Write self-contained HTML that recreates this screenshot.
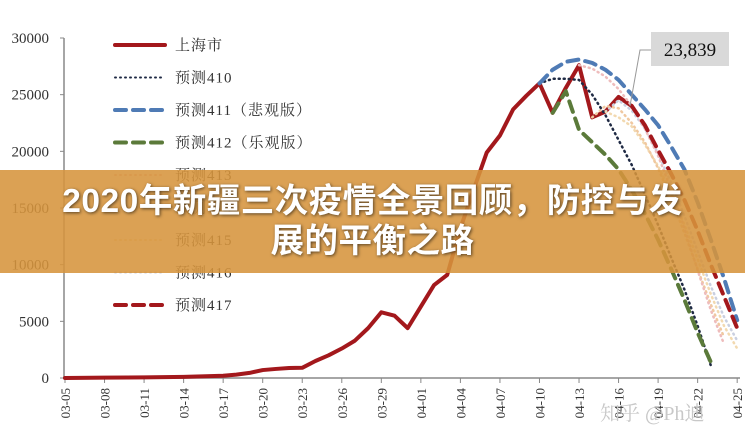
<!DOCTYPE html>
<html><head><meta charset="utf-8">
<style>
body{margin:0;background:#fff;}
#wrap{position:relative;width:745px;height:444px;overflow:hidden;background:#fff;}
svg text{font-family:"Liberation Serif","Noto Serif CJK SC",serif;}
#banner{position:absolute;left:0;top:170px;width:745px;height:103px;background:rgba(214,148,60,0.88);display:flex;align-items:center;justify-content:center;text-align:center;}
#banner div{color:#fff;font-family:"Liberation Sans","Noto Sans CJK SC",sans-serif;font-weight:bold;font-size:33.5px;line-height:40px;width:700px;letter-spacing:0.5px;text-shadow:1px 1px 3px rgba(0,0,0,0.6);}
</style></head><body>
<div id="wrap">
<svg id="chart" width="745" height="444"></svg>
<div id="banner"><div>2020年新疆三次疫情全景回顾，防控与发<br>展的平衡之路</div></div>
</div>
<script>
const dates=["03-05","03-08","03-11","03-14","03-17","03-20","03-23","03-26","03-29","04-01","04-04","04-07","04-10","04-13","04-16","04-19","04-22","04-25"];
const yTicks=[0,5000,10000,15000,20000,25000,30000];
// series: [dayIndex, value] day 0 = 03-05
const shanghai=[[0,0],[3,30],[6,60],[9,100],[12,200],[13,300],[14,450],[15,700],[16,800],[17,880],[18,900],[19,1500],[20,2000],[21,2600],[22,3300],[23,4400],[24,5800],[25,5500],[26,4400],[27,6300],[28,8200],[29,9100],[30,13200],[31,16600],[32,19900],[33,21400],[34,23700],[35,24900],[36,26000],[37,23400],[38,25600],[39,27600],[40,23000],[41,23500],[42,24800],[43,24000]];
const f410=[[36,26000],[37,26400],[38,26400],[39,26300],[40,25000],[41,23200],[42,21000],[43,18800],[44,16200],[45,13500],[46,10600],[47,7800],[48,4600],[49,1100]];
const f411=[[36,26000],[37,27200],[38,27900],[39,28100],[40,27800],[41,27200],[42,26300],[43,25000],[44,23700],[45,22300],[46,20400],[47,18400],[48,15500],[49,12200],[50,8800],[51,5100]];
const f412=[[37,23400],[38,25300],[39,21900],[40,20800],[41,19700],[42,18400],[43,16600],[44,14500],[45,12200],[46,9600],[47,6900],[48,4000],[49,1400]];
const f413=[[39,27600],[40,27300],[41,26600],[42,25500],[43,24000],[44,22000],[45,19600],[46,16600],[47,13200],[48,9500],[49,6000],[50,3000]];
const f414=[[40,23000],[41,24000],[42,23800],[43,22500],[44,20800],[45,18500],[46,15800],[47,12800],[48,9600],[49,6500],[50,3600]];
const f415=[[41,23500],[42,23000],[43,22200],[44,20600],[45,18700],[46,16300],[47,13500],[48,10500],[49,7400],[50,4600],[51,2600]];
const f416=[[41,23500],[42,24500],[43,23600],[44,22000],[45,19800],[46,17200],[47,14300],[48,11200],[49,8100],[50,5400],[51,3300]];
const f417=[[43,24000],[44,22300],[45,20100],[46,18000],[47,15700],[48,13000],[49,10000],[50,7200],[51,4400]];
const legendLabels=["上海市","预测410","预测411（悲观版）","预测412（乐观版）","预测413","预测414","预测415","预测416","预测417"];
const calloutValue="23,839";

const NS="http://www.w3.org/2000/svg";
const svg=document.getElementById('chart');
const X0=65,DX=13.18,Y0=378,YS=340/30000;
const xs=d=>X0+d*DX, ys=v=>Y0-v*YS;
function mk(tag,attrs,parent){const e=document.createElementNS(NS,tag);for(const k in attrs)e.setAttribute(k,attrs[k]);(parent||svg).appendChild(e);return e;}
let ax=mk('line',{x1:64,y1:38,x2:64,y2:379,stroke:'#888','stroke-width':1.5});


let bx=mk('line',{x1:63,y1:378,x2:740,y2:378,stroke:'#888','stroke-width':1.5});


yTicks.forEach(v=>{
 mk('line',{x1:60,y1:ys(v),x2:64,y2:ys(v),stroke:'#888'});
 const t=mk('text',{x:49,y:ys(v)+5,'text-anchor':'end','font-size':15,fill:'#333'});t.textContent=v;
 
 
});
dates.forEach((d,i)=>{
 const x=xs(i*3);
 mk('line',{x1:x,y1:378,x2:x,y2:383,stroke:'#888'});
 const t=mk('text',{x:0,y:0,'text-anchor':'end','font-size':13,fill:'#333',transform:`translate(${x+5},388) rotate(-90)`});t.textContent=d;
 
 
});
const styles=[
 {d:shanghai,c:'#a3181c',w:4,da:'',name:'series-shanghai'},
 {d:f416,c:'#c9cfe0',w:2.5,da:'1 4',name:'series-forecast-416'},
 {d:f415,c:'#f2d9b0',w:2.5,da:'1 4',name:'series-forecast-415'},
 {d:f414,c:'#f0c8a0',w:2.5,da:'1 4',name:'series-forecast-414'},
 {d:f413,c:'#eebcbc',w:2.5,da:'1 4',name:'series-forecast-413'},
 {d:f410,c:'#1f2a44',w:2.5,da:'1 4',name:'series-forecast-410'},
 {d:f411,c:'#4f7bb5',w:4,da:'11 7',name:'series-forecast-411'},
 {d:f412,c:'#5b7a3a',w:4,da:'11 7',name:'series-forecast-412'},
 {d:f417,c:'#a3181c',w:4,da:'11 7',name:'series-forecast-417'}];
styles.forEach(s=>{
 const p=mk('polyline',{points:s.d.map(([d,v])=>xs(d)+','+ys(v)).join(' '),fill:'none',stroke:s.c,'stroke-width':s.w,'stroke-dasharray':s.da,'stroke-linecap':'round','stroke-linejoin':'round'});
 
 
});
const lg=[{c:'#a3181c',w:4,da:''},{c:'#1f2a44',w:2,da:'1 4'},{c:'#4f7bb5',w:4,da:'11 7'},{c:'#5b7a3a',w:4,da:'11 7'},{c:'#eebcbc',w:2,da:'1 4'},{c:'#f0c8a0',w:2,da:'1 4'},{c:'#f2d9b0',w:2,da:'1 4'},{c:'#c9cfe0',w:2,da:'1 4'},{c:'#a3181c',w:4,da:'11 7'}];
legendLabels.forEach((l,i)=>{
 const y=45+i*32.5;
 const g=mk('g',{});
 
 
 mk('line',{x1:115,y1:y,x2:165,y2:y,stroke:lg[i].c,'stroke-width':lg[i].w,'stroke-dasharray':lg[i].da,'stroke-linecap':'round'},g);
 const t=mk('text',{x:175,y:y+5,'font-size':15,fill:'#333','letter-spacing':1},g);t.textContent=l;
});
const cg=mk('g',{});


mk('polyline',{points:'652,50 640,50 630,106',fill:'none',stroke:'#999','stroke-width':1},cg);
mk('rect',{x:651,y:32,width:78,height:34,fill:'#d9d9d9'},cg);
const ct=mk('text',{x:690,y:56,'text-anchor':'middle','font-size':19,fill:'#111'},cg);ct.textContent=calloutValue;
const wm=mk('text',{x:600,y:420,'font-size':20,fill:'#c8c8c8','font-family':'"Liberation Sans","Noto Sans CJK SC",sans-serif'});wm.textContent='知乎 @Ph迪';


</script>
</body></html>
